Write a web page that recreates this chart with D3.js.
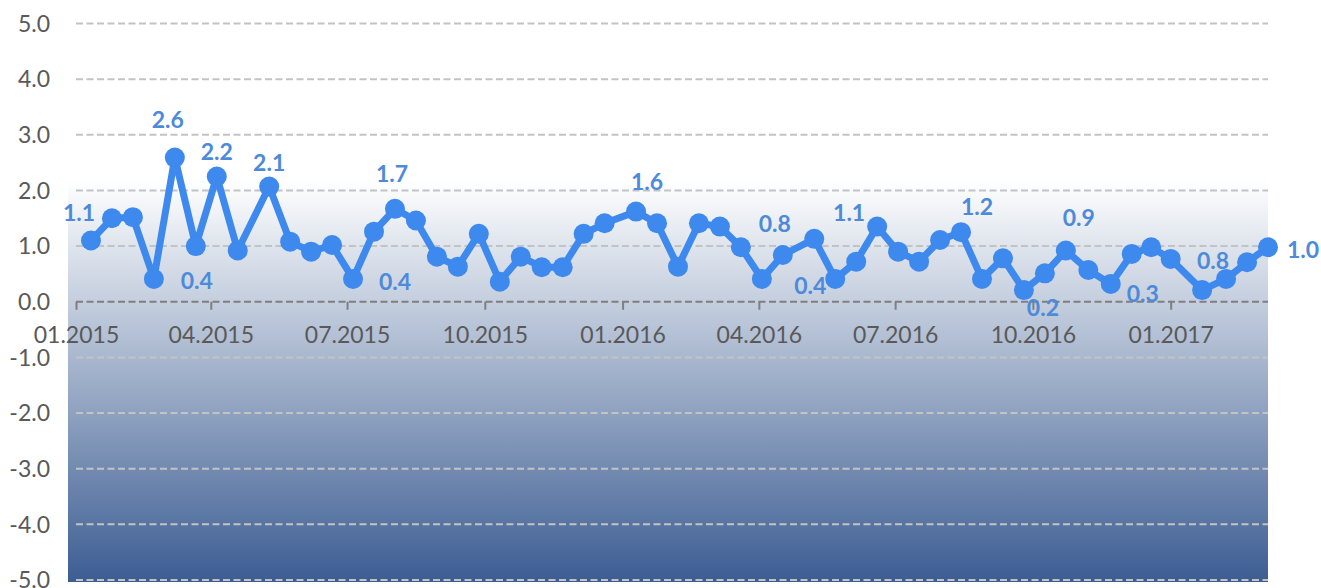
<!DOCTYPE html>
<html>
<head>
<meta charset="utf-8">
<script src="https://cdn.jsdelivr.net/npm/d3@7"></script>
<style>
  body { margin: 0; background: #fff; }
  svg { display: block; font-family: Lato, 'Open Sans', sans-serif; }
</style>
</head>
<body>
<div id="chart"></div>
<script>
// biweekly observations
const dates = [
  '2015-01-11', '2015-01-25', '2015-02-08', '2015-02-22', '2015-03-08', '2015-03-22', '2015-04-05', '2015-04-19',
  '2015-05-10', '2015-05-24', '2015-06-07', '2015-06-21', '2015-07-05', '2015-07-19', '2015-08-02', '2015-08-16',
  '2015-08-30', '2015-09-13', '2015-09-27', '2015-10-11', '2015-10-25', '2015-11-08', '2015-11-22', '2015-12-06',
  '2015-12-20', '2016-01-10', '2016-01-24', '2016-02-07', '2016-02-21', '2016-03-06', '2016-03-20', '2016-04-03',
  '2016-04-17', '2016-05-08', '2016-05-22', '2016-06-05', '2016-06-19', '2016-07-03', '2016-07-17', '2016-07-31',
  '2016-08-14', '2016-08-28', '2016-09-11', '2016-09-25', '2016-10-09', '2016-10-23', '2016-11-07', '2016-11-22',
  '2016-12-06', '2016-12-19', '2017-01-01', '2017-01-22', '2017-02-07', '2017-02-21', '2017-03-07'
]
const values = [
  1.10, 1.50, 1.52, 0.41, 2.59, 1.00, 2.25, 0.92, 2.07, 1.08,
  0.90, 1.02, 0.41, 1.26, 1.67, 1.46, 0.81, 0.63, 1.22, 0.36,
  0.81, 0.62, 0.62, 1.22, 1.41, 1.62, 1.41, 0.63, 1.41, 1.35,
  0.98, 0.41, 0.84, 1.13, 0.41, 0.72, 1.35, 0.90, 0.72, 1.11,
  1.25, 0.41, 0.78, 0.21, 0.51, 0.92, 0.57, 0.32, 0.86, 0.98,
  0.77, 0.21, 0.41, 0.71, 0.98
]
// data labels: which point they sit next to, and their text
const labelIndex = [0, 4, 5, 6, 8, 14, 12, 25, 32, 34, 36, 40, 43, 45, 47, 52, 54]
const labelText = ['1.1', '2.6', '0.4', '2.2', '2.1', '1.7', '0.4', '1.6', '0.8', '0.4', '1.1', '1.2', '0.2', '0.9', '0.3', '0.8', '1.0']
const yTicks = [5, 4, 3, 2, 1, 0, -1, -2, -3, -4, -5]
const xTicks = ['2015-01-01', '2015-04-01', '2015-07-01', '2015-10-01', '2016-01-01', '2016-04-01', '2016-07-01', '2016-10-01', '2017-01-01']

// label offsets from their point (layout only)
const labelOffset = [
  [-12, -28], [-7, -38], [1, 35], [0, -25], [0, -24], [-3, -35], [42, 3], [11, -30], [-8, -31],
  [-25, 7], [-28, -14], [16, -25], [19, 18], [13, -33], [32, 10], [-13, -18], [35, 3]
]

const width = 1321, height = 588
const parse = d3.timeParse('%Y-%m-%d')
const data = dates.map((d, i) => ({ date: parse(d), value: values[i] }))

const svg = d3
  .select('#chart')
  .append('svg')
  .attr('width', width)
  .attr('height', height)

const x = d3
  .scaleTime()
  .domain([parse(xTicks[0]), parse(dates[dates.length - 1])])
  .range([76, 1268])

const y = d3.scaleLinear().domain([-5, 5]).range([580, 23.5])

// plot area gradient
const grad = svg
  .append('defs')
  .append('linearGradient')
  .attr('id', 'bg')
  .attr('x1', 0)
  .attr('y1', 0)
  .attr('x2', 0)
  .attr('y2', 1)
grad.append('stop').attr('offset', '0%').attr('stop-color', '#ffffff')
grad.append('stop').attr('offset', '100%').attr('stop-color', '#3c5d92')

svg
  .append('rect')
  .attr('x', 68)
  .attr('y', 180)
  .attr('width', 1200)
  .attr('height', y(-5) - 180 + 2)
  .attr('fill', 'url(#bg)')

// gridlines
svg
  .append('g')
  .selectAll('line')
  .data(yTicks.filter((d) => d !== 0))
  .join('line')
  .attr('x1', 76)
  .attr('x2', 1268)
  .attr('y1', (d) => y(d))
  .attr('y2', (d) => y(d))
  .style('stroke', '#c3c3c3')
  .style('stroke-width', 2)
  .style('stroke-dasharray', '7,3.5')

// y labels
svg
  .append('g')
  .selectAll('text')
  .data(yTicks)
  .join('text')
  .attr('x', 50)
  .attr('y', (d) => y(d))
  .attr('dy', '0.36em')
  .attr('text-anchor', 'end')
  .style('font-size', '23px')
  .style('fill', '#595959')
  .text((d) => d.toFixed(1))

// x axis on zero line
const xAxis = d3
  .axisBottom(x)
  .tickValues(xTicks.map(parse))
  .tickSize(8)
  .tickPadding(17)
  .tickFormat(d3.timeFormat('%m.%Y'))

const gx = svg
  .append('g')
  .attr('transform', `translate(0, ${y(0)})`)
  .call(xAxis)
gx.select('.domain')
  .attr('d', `M76,0H1268`)
  .style('stroke', '#7f7f7f')
  .style('stroke-width', 2)
  .style('stroke-dasharray', '7,3.5')
gx.selectAll('.tick line').style('stroke', '#7f7f7f').style('stroke-width', 2)
gx.selectAll('.tick text')
  .style('font-size', '23px')
  .style('font-family', 'Lato, sans-serif')
  .style('fill', '#595959')

// the series
const line = d3
  .line()
  .x((d) => x(d.date))
  .y((d) => y(d.value))

svg
  .append('path')
  .datum(data)
  .attr('d', line)
  .attr('fill', 'none')
  .style('stroke', '#3d89ee')
  .style('stroke-width', 7)
  .style('stroke-linejoin', 'round')

svg
  .append('g')
  .selectAll('circle')
  .data(data)
  .join('circle')
  .attr('cx', (d) => x(d.date))
  .attr('cy', (d) => y(d.value))
  .attr('r', 10)
  .attr('fill', '#3d89ee')

// data labels
svg
  .append('g')
  .selectAll('text')
  .data(labelIndex)
  .join('text')
  .attr('x', (d, i) => x(data[d].date) + labelOffset[i][0])
  .attr('y', (d, i) => y(data[d].value) + labelOffset[i][1])
  .attr('dy', '0.36em')
  .attr('text-anchor', 'middle')
  .style('font-size', '23px')
  .style('font-weight', 'bold')
  .style('fill', '#4d8ad9')
  .text((d, i) => labelText[i])
</script>
</body>
</html>
